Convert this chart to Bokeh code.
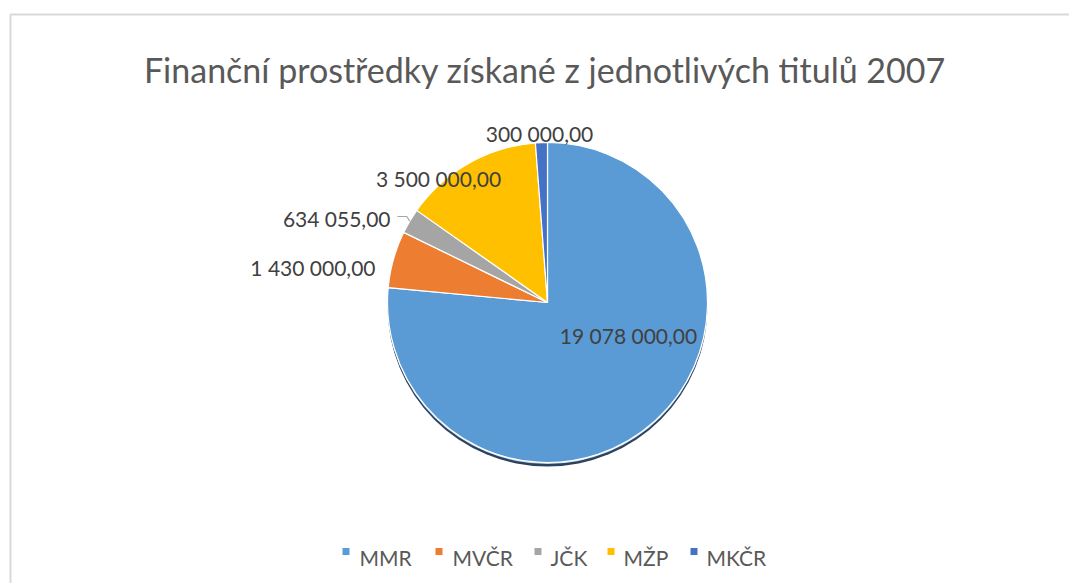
import numpy as np
from bokeh.plotting import figure
from bokeh.models import ColumnDataSource, Range1d
from bokeh.core.properties import value
from bokeh.embed import file_html
from bokeh.resources import INLINE

# ---- data ----
categories = ["MMR", "MVČR", "JČK", "MŽP", "MKČR"]
amounts = [19078000.00, 1430000.00, 634055.00, 3500000.00, 300000.00]
label_texts = ["19 078 000,00", "1 430 000,00", "634 055,00", "3 500 000,00", "300 000,00"]
colors = ["#5B9BD5", "#ED7D31", "#A5A5A5", "#FFC000", "#4472C4"]
title_text = "Finanční prostředky získané z jednotlivých titulů 2007"

# ---- layout (page pixels) ----
W, H = 1069, 583
PAGE_H = 583
CX, CY, R = 547, 302, 160
LABEL_X = [628, 375, 390, 438, 539]
LABEL_BASE = [335, 267, 218, 178, 133]
LABEL_ALIGN = ["center", "right", "right", "center", "center"]
LEG_SQ_X = [345.5, 438.5, 537.5, 610.5, 693.5]
LEG_TX_X = [359, 452, 550, 623, 706]
LEG_SQ_Y, LEG_BASE = 551, 557
FONT = value("Lato")


def Y(py):
    return PAGE_H - py


p = figure(width=W, height=H, output_backend="svg", toolbar_location=None,
           x_range=Range1d(0, W), y_range=Range1d(PAGE_H - H, PAGE_H),
           x_axis_type=None, y_axis_type=None, min_border=0,
           background_fill_color="white", border_fill_color="white")
p.grid.visible = False
p.outline_line_color = None

# chart border (top/left visible; rest runs off page)
p.line(x=[10, 10, 1100], y=[Y(700), Y(14), Y(14)], line_color="#d9d9d9", line_width=2)

# pie angles from data
vals = np.array(amounts, dtype=float)
frac = vals / vals.sum()
cum = np.concatenate([[0.0], np.cumsum(frac)])
comp_start = cum[:-1] * 2 * np.pi          # compass angle, clockwise from north
comp_end = cum[1:] * 2 * np.pi
comp_mid = (comp_start + comp_end) / 2
start_angle = np.pi / 2 - comp_start
end_angle = np.pi / 2 - comp_end

src = ColumnDataSource(dict(cat=categories, val=amounts, color=colors,
                            start=start_angle, end=end_angle))

# shadow
p.circle(x=CX, y=Y(CY + 4), radius=R, fill_color="#1f3a57", line_color=None, fill_alpha=0.95)
p.circle(x=CX, y=Y(CY + 1.5), radius=R, fill_color="#c9d6e6", line_color=None)

p.wedge(x=CX, y=Y(CY), radius=R, start_angle="start", end_angle="end",
        direction="clock", fill_color="color", line_color="white", line_width=1.2,
        source=src)

# leader line for JČK label
k = categories.index("JČK")
ex = CX + R * np.sin(comp_mid[k])
ey = CY - R * np.cos(comp_mid[k])
p.line(x=[LABEL_X[k] + 7, ex - 3, ex], y=[Y(LABEL_BASE[k] - 2), Y(LABEL_BASE[k] - 2), Y(ey)],
       line_color="#a6a6a6", line_width=1.2)

# data labels
for i, t in enumerate(label_texts):
    p.text(x=[LABEL_X[i]], y=[Y(LABEL_BASE[i])], text=[t], text_font=FONT,
           text_font_size="21px", text_color="#404040", text_align=LABEL_ALIGN[i],
           text_baseline="alphabetic")

# title
p.text(x=[544.5], y=[Y(69)], text=[title_text], text_font=FONT, text_font_size="34px",
       text_color="#595959", text_align="center", text_baseline="alphabetic")

# legend
p.rect(x=LEG_SQ_X, y=[Y(LEG_SQ_Y)] * 5, width=7, height=7, fill_color=colors, line_color=None)
p.text(x=LEG_TX_X, y=[Y(LEG_BASE)] * 5, text=categories, text_font=FONT,
       text_font_size="21px", text_color="#595959", text_align="left",
       text_baseline="alphabetic")

open("out.html", "w").write(file_html(p, INLINE))
